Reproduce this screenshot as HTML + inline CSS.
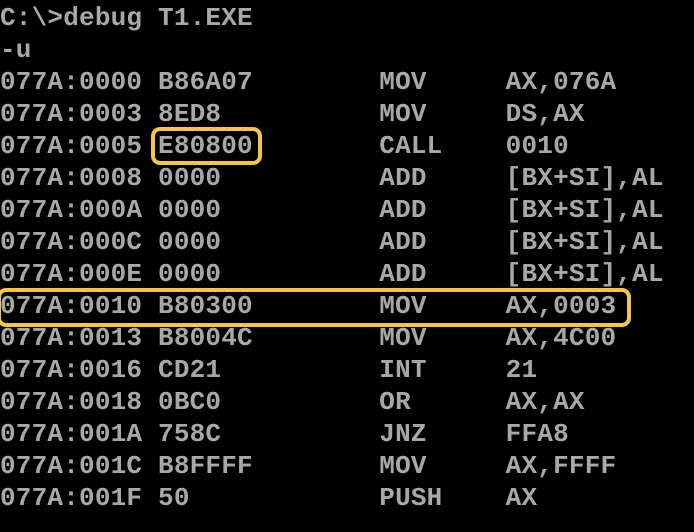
<!DOCTYPE html>
<html><head><meta charset="utf-8"><style>
html,body{margin:0;padding:0;background:#000;width:694px;height:532px;overflow:hidden}
#t{position:absolute;left:0;top:2px;font-family:"Liberation Mono",monospace;font-size:26px;font-weight:bold;letter-spacing:0.2px;line-height:32px;color:#a8a8a8;white-space:pre;margin:0}
.box{position:absolute;border:4px solid #f7c544;border-radius:9px;box-sizing:border-box}
</style></head><body>
<pre id="t">C:\>debug T1.EXE
-u
077A:0000 B86A07        MOV     AX,076A
077A:0003 8ED8          MOV     DS,AX
077A:0005 E80800        CALL    0010
077A:0008 0000          ADD     [BX+SI],AL
077A:000A 0000          ADD     [BX+SI],AL
077A:000C 0000          ADD     [BX+SI],AL
077A:000E 0000          ADD     [BX+SI],AL
077A:0010 B80300        MOV     AX,0003
077A:0013 B8004C        MOV     AX,4C00
077A:0016 CD21          INT     21
077A:0018 0BC0          OR      AX,AX
077A:001A 758C          JNZ     FFA8
077A:001C B8FFFF        MOV     AX,FFFF
077A:001F 50            PUSH    AX</pre>
<div class="box" style="left:151px;top:127px;width:111px;height:38px"></div>
<div class="box" style="left:-3px;top:288px;width:634px;height:39px"></div>
</body></html>
